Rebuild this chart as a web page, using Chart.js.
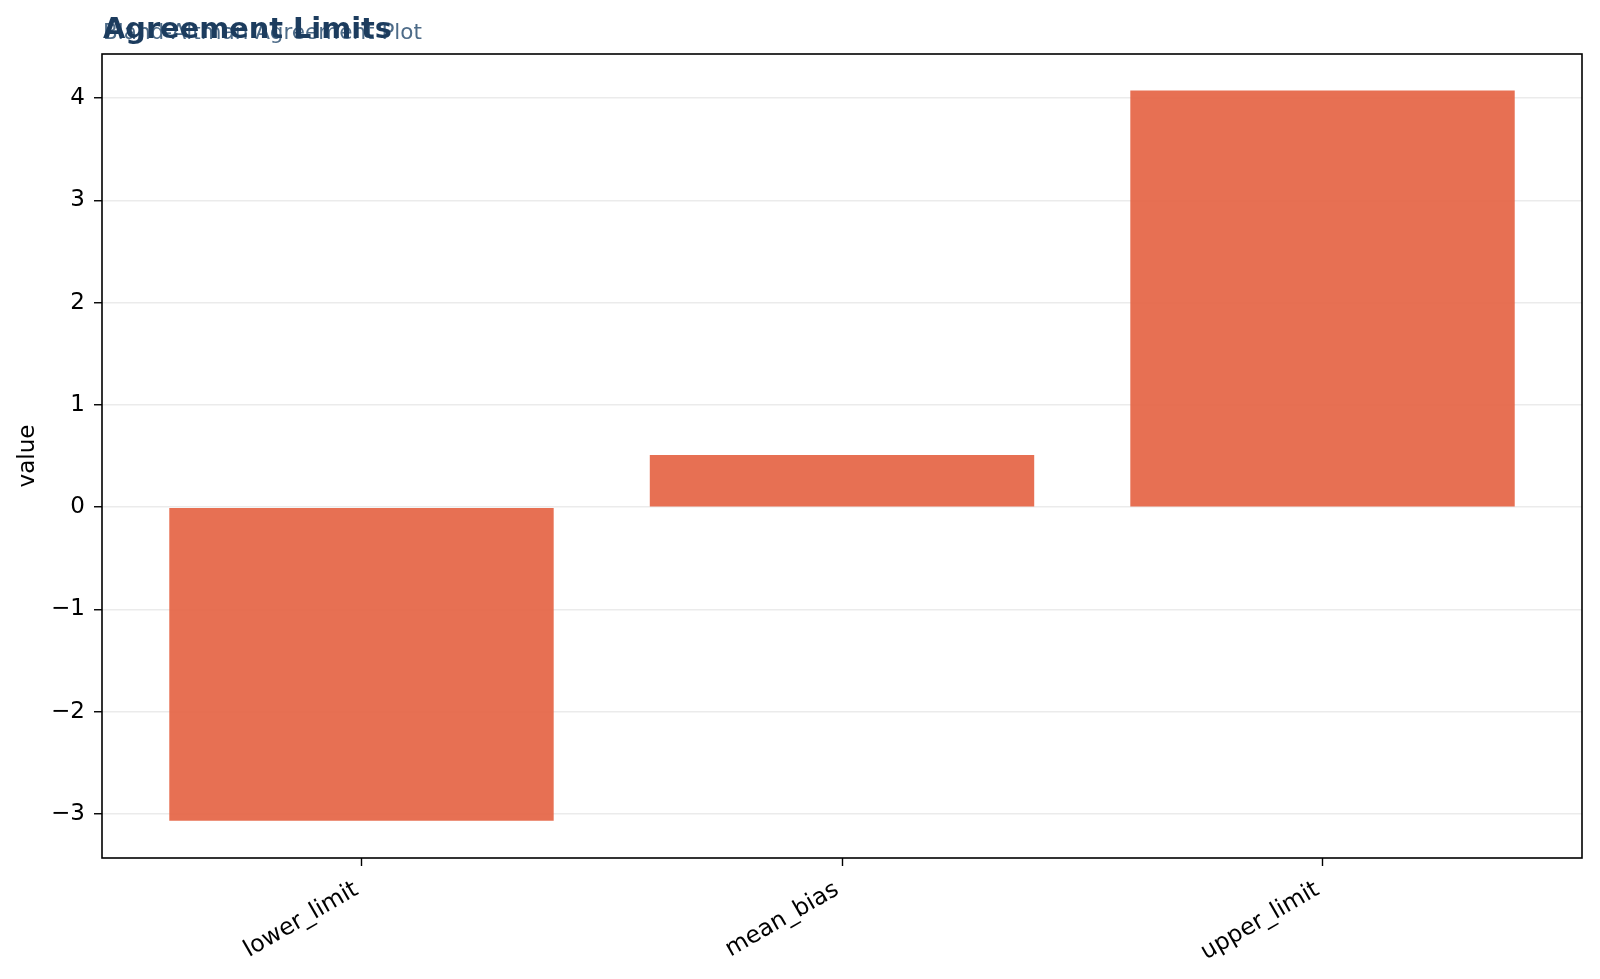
<!DOCTYPE html>
<html>
<head>
<meta charset="utf-8">
<title>Agreement Limits</title>
<script src="https://cdn.jsdelivr.net/npm/chart.js@4.4.1/dist/chart.umd.min.js"></script>
<style>
    html, body { margin: 0; padding: 0; background: #fff; }
    #wrap { width: 1600px; height: 979px; position: relative; }
</style>
</head>
<body>
<div id="wrap"><canvas id="limitsChart"></canvas></div>
<script>
// --- Data ---
const categories = ["lower_limit", "mean_bias", "upper_limit"];
const values = [-3.066, 0.51, 4.074];
const yTicks = [-3, -2, -1, 0, 1, 2, 3, 4];

const chartTitle = "Agreement Limits";
const chartSubtitle = "Bland-Altman Agreement Plot";
const barColor = 'rgba(229, 100, 68, 0.92)';
const fontFamily = "'DejaVu Sans', sans-serif";

// Title + subtitle drawn on top of each other, like the reference
const headerPlugin = {
    id: 'header',
    afterDraw(chart) {
        const ctx = chart.ctx;
        const left = chart.chartArea.left + 1;
        ctx.save();
        ctx.textAlign = 'left';
        ctx.textBaseline = 'alphabetic';
        ctx.fillStyle = '#4d6b88';
        ctx.font = "21.5px " + fontFamily;
        ctx.fillText(chartSubtitle, left, 39);
        ctx.fillStyle = '#1c3c5e';
        ctx.font = "bold 28.8px " + fontFamily;
        ctx.fillText(chartTitle, left, 38);
        ctx.restore();
    }
};

// Full box around the plot area
const framePlugin = {
    id: 'frame',
    afterDraw(chart) {
        const { left, top, right, bottom } = chart.chartArea;
        const ctx = chart.ctx;
        ctx.save();
        ctx.strokeStyle = '#000';
        ctx.lineWidth = 1.6;
        ctx.strokeRect(left, top, right - left, bottom - top);
        ctx.restore();
    }
};

const ctx = document.getElementById('limitsChart');
new Chart(ctx, {
    type: 'bar',
    data: {
        datasets: [{
            label: 'value',
            data: values.map((v, i) => ({ x: i, y: v })),
            backgroundColor: barColor,
            borderWidth: 0,
            barPercentage: 0.8,
            categoryPercentage: 1.0
        }]
    },
    options: {
        responsive: true,
        maintainAspectRatio: false,
        animation: false,
        layout: { padding: { left: 0, top: 54, right: 18, bottom: 0 } },
        plugins: {
            legend: { display: false },
            tooltip: { enabled: false }
        },
        scales: {
            x: {
                type: 'linear',
                min: -0.54,
                max: 2.54,
                offset: false,
                afterBuildTicks: (scale) => {
                    scale.ticks = categories.map((c, i) => ({ value: i }));
                },
                afterFit: (scale) => { scale.height = 121; },
                border: { display: false },
                grid: {
                    offset: false,
                    drawOnChartArea: false,
                    drawTicks: true,
                    tickLength: 8,
                    tickColor: '#000',
                    tickWidth: 1.4
                },
                ticks: {
                    autoSkip: false,
                    minRotation: 30,
                    maxRotation: 30,
                    padding: 10,
                    labelOffset: -5,
                    color: '#000',
                    font: { family: fontFamily, size: 23.5 },
                    callback: (value) => categories[value]
                }
            },
            y: {
                type: 'linear',
                min: -3.43,
                max: 4.43,
                afterBuildTicks: (scale) => {
                    scale.ticks = yTicks.map(v => ({ value: v }));
                },
                afterFit: (scale) => { scale.width = 102; },
                border: { display: false },
                grid: {
                    color: '#ebebeb',
                    lineWidth: 1.5,
                    drawTicks: true,
                    tickLength: 8,
                    tickColor: '#000',
                    tickWidth: 1.4
                },
                ticks: {
                    padding: 9,
                    color: '#000',
                    font: { family: fontFamily, size: 23 },
                    callback: (value) => value < 0 ? '\u2212' + Math.abs(value) : String(value)
                },
                title: {
                    display: true,
                    text: 'value',
                    color: '#000',
                    font: { family: fontFamily, size: 23 },
                    padding: { top: 14, bottom: 0 }
                }
            }
        }
    },
    plugins: [headerPlugin, framePlugin]
});
</script>
</body>
</html>
